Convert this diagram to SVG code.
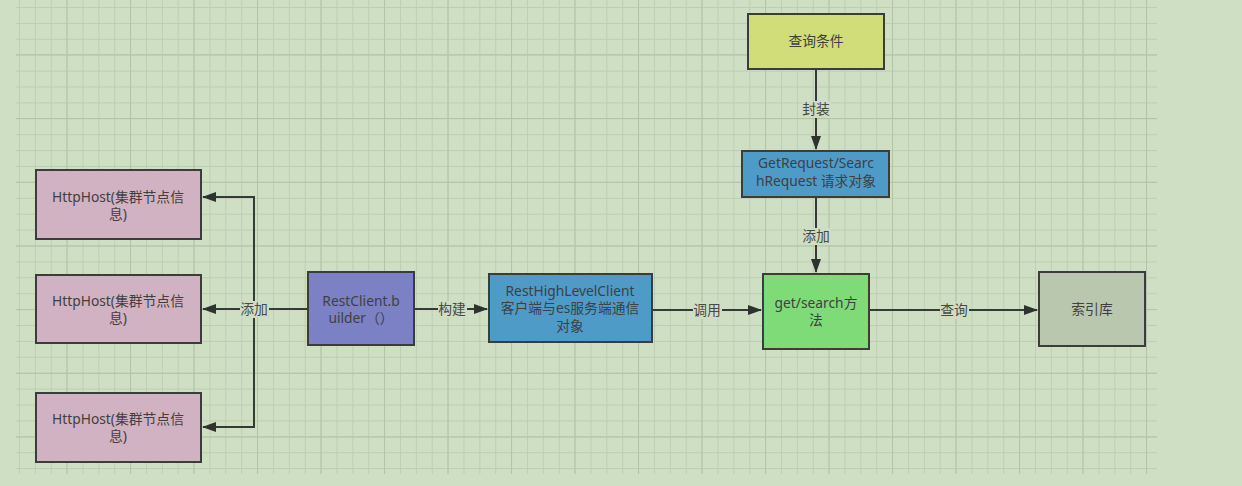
<svg xmlns="http://www.w3.org/2000/svg" width="1242" height="486" viewBox="0 0 1242 486">
<defs>
<style>
.node rect{stroke:#3a3d3a;stroke-width:2}
.node text,.lbl text{font-family:"Noto Sans","Noto Sans CJK SC",sans-serif;font-size:13.8px;fill:#404040;text-anchor:middle}
.lbl text{fill:#484848}
.conn path{fill:none;stroke:#363a36;stroke-width:2}
.lbl rect{fill:#cfdec3}
</style>
<pattern id="minor" x="3.1" y="7" width="15.875" height="15.9" patternUnits="userSpaceOnUse">
<path d="M0 0H15.875M0 0V15.9" stroke="#bdcdb1" stroke-width="1.8" fill="none"/>
</pattern>
<pattern id="major" x="3" y="-9.4" width="63.5" height="63.7" patternUnits="userSpaceOnUse">
<path d="M0 0H63.5M0 0V63.7" stroke="#b2c3a6" stroke-width="1.8" fill="none"/>
</pattern>
<marker id="arr" viewBox="0 0 14 10" refX="13" refY="5" markerWidth="14" markerHeight="10" markerUnits="userSpaceOnUse" orient="auto">
<path d="M0 0L14 5L0 10z" fill="#2f332f"/>
</marker>
</defs>
<rect x="0" y="0" width="1242" height="486" fill="#cfdfc3"/>
<rect x="16" y="0" width="1141" height="474" fill="url(#minor)"/>
<rect x="16" y="0" width="1141" height="474" fill="url(#major)"/>

<g id="connectors" class="conn">
<path d="M308 309H254"/>
<path d="M254 309V197H203" marker-end="url(#arr)"/>
<path d="M254 309H203" marker-end="url(#arr)"/>
<path d="M254 309V427H203" marker-end="url(#arr)"/>
<path d="M414 309H487" marker-end="url(#arr)"/>
<path d="M652 310H761" marker-end="url(#arr)"/>
<path d="M816 69V149" marker-end="url(#arr)"/>
<path d="M816 197V272" marker-end="url(#arr)"/>
<path d="M869 310H1037" marker-end="url(#arr)"/>
</g>
<g id="labels" class="lbl">
<rect x="240" y="301" width="29" height="17"/><text x="254" y="314">添加</text>
<rect x="438" y="301" width="29" height="17"/><text x="452" y="314">构建</text>
<rect x="693" y="302" width="29" height="17"/><text x="707" y="315">调用</text>
<rect x="802" y="101" width="29" height="17"/><text x="816" y="114">封装</text>
<rect x="802" y="228" width="29" height="17"/><text x="816" y="241">添加</text>
<rect x="940" y="302" width="29" height="17"/><text x="954" y="315">查询</text>
</g>

<g id="host1" class="node"><rect x="36" y="170" width="165" height="69" fill="#d1b2c2"/><text x="118" y="202">HttpHost(集群节点信</text><text x="118" y="219">息)</text></g>
<g id="host2" class="node"><rect x="36" y="275" width="165" height="68" fill="#d1b2c2"/><text x="118" y="306">HttpHost(集群节点信</text><text x="118" y="323">息)</text></g>
<g id="host3" class="node"><rect x="36" y="393" width="165" height="69" fill="#d1b2c2"/><text x="118" y="424">HttpHost(集群节点信</text><text x="118" y="441">息)</text></g>
<g id="restclient" class="node"><rect x="308" y="272" width="106" height="73" fill="#7b81c4"/><text x="361" y="306">RestClient.b</text><text x="361" y="323">uilder（）</text></g>
<g id="highlevel" class="node"><rect x="489" y="274" width="163" height="68" fill="#4e9bc8"/><text x="570" y="296">RestHighLevelClient</text><text x="570" y="313">客户端与es服务端通信</text><text x="570" y="331">对象</text></g>
<g id="condition" class="node"><rect x="748" y="14" width="136" height="55" fill="#d0dd79"/><text x="816" y="46">查询条件</text></g>
<g id="request" class="node"><rect x="742" y="151" width="147" height="46" fill="#4e9bc8"/><text x="816" y="168">GetRequest/Searc</text><text x="816" y="186">hRequest 请求对象</text></g>
<g id="search" class="node"><rect x="763" y="274" width="106" height="75" fill="#7edb77"/><text x="816" y="308">get/search方</text><text x="816" y="325">法</text></g>
<g id="index" class="node"><rect x="1039" y="272" width="106" height="74" fill="#b9c7af"/><text x="1092" y="314">索引库</text></g>
</svg>
